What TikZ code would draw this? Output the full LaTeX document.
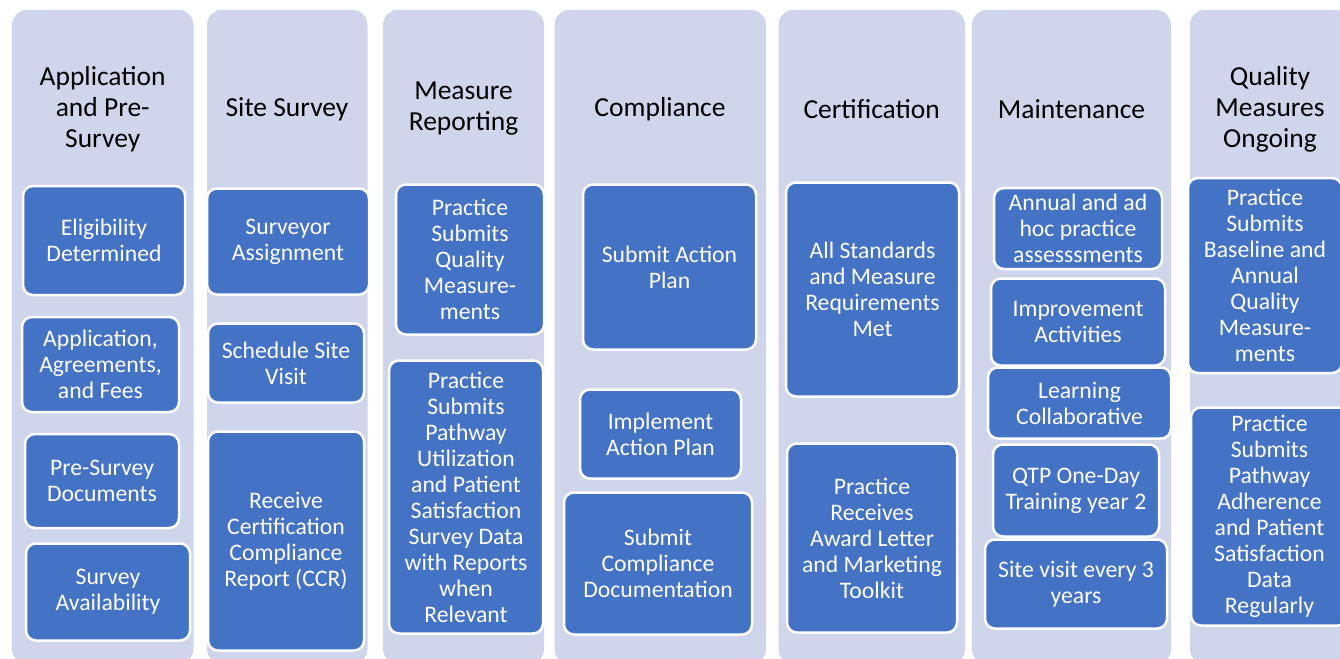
\documentclass[tikz,border=0pt]{standalone}
\usepackage{fontspec}
\setmainfont{Carlito}
\definecolor{lav}{HTML}{CFD5EA}
\definecolor{bblue}{HTML}{4472C4}
\tikzset{
  colbg/.style={fill=lav, rounded corners=15pt},
  coltitle/.style={align=center, text=black, font=\fontsize{27.5}{31}\selectfont, inner sep=0pt},
  stepbox/.style={draw=white, line width=2.5pt, fill=bblue, rounded corners=10pt, text=white,
    align=center, inner sep=0pt, font=\fontsize{23.7}{26}\selectfont},
}
\begin{document}
\begin{tikzpicture}[x=1pt,y=-1pt]
\useasboundingbox (0,0) rectangle (1340,658);
\clip (0,0) rectangle (1340,658);
% column backgrounds
\fill[colbg] (12,10) rectangle (193.5,664);
\fill[colbg] (207,10) rectangle (367.5,664);
\fill[colbg] (383,10) rectangle (544,664);
\fill[colbg] (554.5,10) rectangle (766,664);
\fill[colbg] (778.5,10) rectangle (965,664);
\fill[colbg] (972,10) rectangle (1171,664);
\fill[colbg] (1190,10) rectangle (1350,664);
% titles
\node[coltitle] (t1) at (102.7,109) {Application\\and Pre-\\Survey};
\node[coltitle] (t2) at (287,109) {Site Survey};
\node[coltitle] (t3) at (463.5,109) {Measure\\Reporting};
\node[coltitle] (t4) at (660,109) {Compliance};
\node[coltitle] (t5) at (871.7,109) {Certification};
\node[coltitle] (t6) at (1071.5,109) {Maintenance};
\node[coltitle] (t7) at (1270,109) {Quality\\Measures\\Ongoing};
% column 1
\node[stepbox, minimum width=162pt, minimum height=109pt] (a1) at (104,240.5) {Eligibility\\Determined};
\node[stepbox, minimum width=157pt, minimum height=95pt] (a2) at (100.5,364.5) {Application,\\Agreements,\\and Fees};
\node[stepbox, minimum width=154pt, minimum height=94pt] (a3) at (102,481) {Pre-Survey\\Documents};
\node[stepbox, minimum width=164pt, minimum height=97pt] (a4) at (108,592) {Survey\\Availability};
% column 2
\node[stepbox, minimum width=162pt, minimum height=106pt] (b1) at (288,241.5) {Surveyor\\Assignment};
\node[stepbox, minimum width=156pt, minimum height=79pt] (b2) at (286,363) {Schedule Site\\Visit};
\node[stepbox, minimum width=156pt, minimum height=219pt] (b3) at (286,541) {Receive\\Certification\\Compliance\\Report (CCR)};
% column 3
\node[stepbox, minimum width=148pt, minimum height=150pt] (c1) at (470,259.5) {Practice\\Submits\\Quality\\Measure-\\ments};
\node[stepbox, minimum width=154pt, minimum height=273pt] (c2) at (466,497) {Practice\\Submits\\Pathway\\Utilization\\and Patient\\Satisfaction\\Survey Data\\with Reports\\when\\Relevant};
% column 4
\node[stepbox, minimum width=173pt, minimum height=165pt] (d1) at (669.5,267) {Submit Action\\Plan};
\node[stepbox, minimum width=161pt, minimum height=89pt] (d2) at (660.5,434) {Implement\\Action Plan};
\node[stepbox, minimum width=188pt, minimum height=142pt] (d3) at (658,563.5) {Submit\\Compliance\\Documentation};
% column 5
\node[stepbox, minimum width=173pt, minimum height=214pt] (e1) at (872.5,289.5) {All Standards\\and Measure\\Requirements\\Met};
\node[stepbox, minimum width=170pt, minimum height=189pt] (e2) at (872,538) {Practice\\Receives\\Award Letter\\and Marketing\\Toolkit};
% column 6
\node[stepbox, minimum width=168pt, minimum height=81pt] (f1) at (1078,228.5) {Annual and ad\\hoc practice\\assesssments};
\node[stepbox, minimum width=174pt, minimum height=87pt] (f2) at (1078,322) {Improvement\\Activities};
\node[stepbox, minimum width=183pt, minimum height=71pt] (f3) at (1079.5,403) {Learning\\Collaborative};
\node[stepbox, minimum width=166pt, minimum height=92pt] (f4) at (1076,490.5) {QTP One-Day\\Training year 2};
\node[stepbox, minimum width=182pt, minimum height=89pt] (f5) at (1076,584) {Site visit every 3\\years};
% column 7
\node[stepbox, minimum width=154pt, minimum height=195pt] (g1) at (1265,275.5) {Practice\\Submits\\Baseline and\\Annual\\Quality\\Measure-\\ments};
\node[stepbox, minimum width=157pt, minimum height=218pt] (g2) at (1269.5,516.5) {Practice\\Submits\\Pathway\\Adherence\\and Patient\\Satisfaction\\Data\\Regularly};
\end{tikzpicture}
\end{document}
